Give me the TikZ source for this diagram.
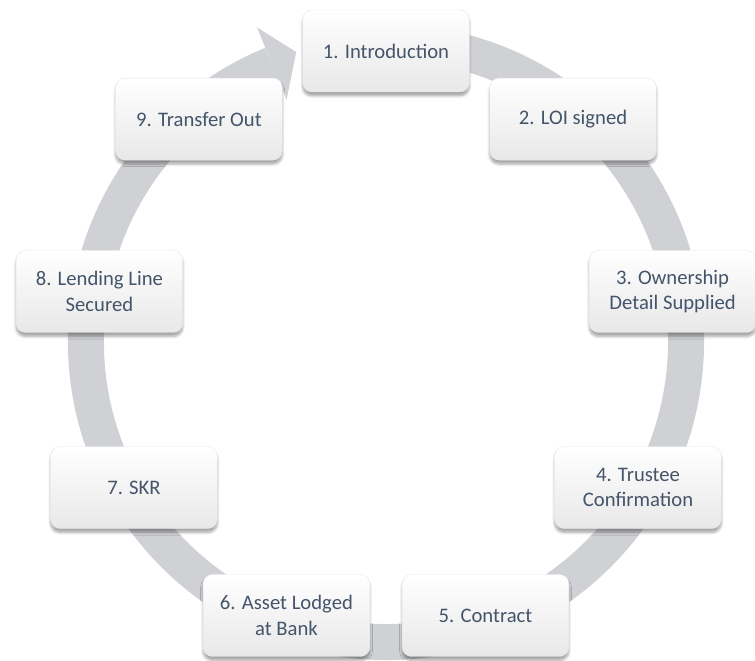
\documentclass[tikz,border=0pt]{standalone}
\usepackage{fontspec}
\setmainfont{Carlito}
\usetikzlibrary{shadows.blur}
\definecolor{ringgray}{RGB}{208,209,213}
\definecolor{steptext}{RGB}{68,84,106}

\begin{document}
\begin{tikzpicture}[x=0.75pt, y=0.75pt, stepbox/.style={rectangle, rounded corners=7pt, minimum width=125pt, minimum height=61.5pt, top color=white, bottom color=black!9, draw=black!10, line width=0.3pt, text=steptext, align=center, font=\fontsize{15.5}{19}\selectfont, blur shadow={shadow xshift=0pt, shadow yshift=-3pt, shadow blur steps=6, shadow opacity=35}}]
  \useasboundingbox (-386,-318) rectangle (369,342);
  % ring and its arrow head
  \draw[ringgray, line width=27pt] (80:300) arc[start angle=80, end angle=-247.7, radius=300];
  \fill[ringgray] (112.3:340) -- (107.2:303.6) -- (112.3:262) -- cycle;
  % steps, clockwise from the top
  \node[stepbox] (intro) at (90:291) {1. Introduction};
  \node[stepbox] (loi) at (50:291) {2. LOI signed};
  \node[stepbox] (owner) at (10:291) {3. Ownership\\Detail Supplied};
  \node[stepbox] (trustee) at (-30:291) {4. Trustee\\Confirmation};
  \node[stepbox] (contract) at (-70:291) {5. Contract};
  \node[stepbox] (asset) at (-110:291) {6. Asset Lodged\\at Bank};
  \node[stepbox] (skr) at (-150:291) {7. SKR};
  \node[stepbox] (lending) at (170:291) {8. Lending Line\\Secured};
  \node[stepbox] (transfer) at (130:291) {9. Transfer Out};
\end{tikzpicture}
\end{document}
